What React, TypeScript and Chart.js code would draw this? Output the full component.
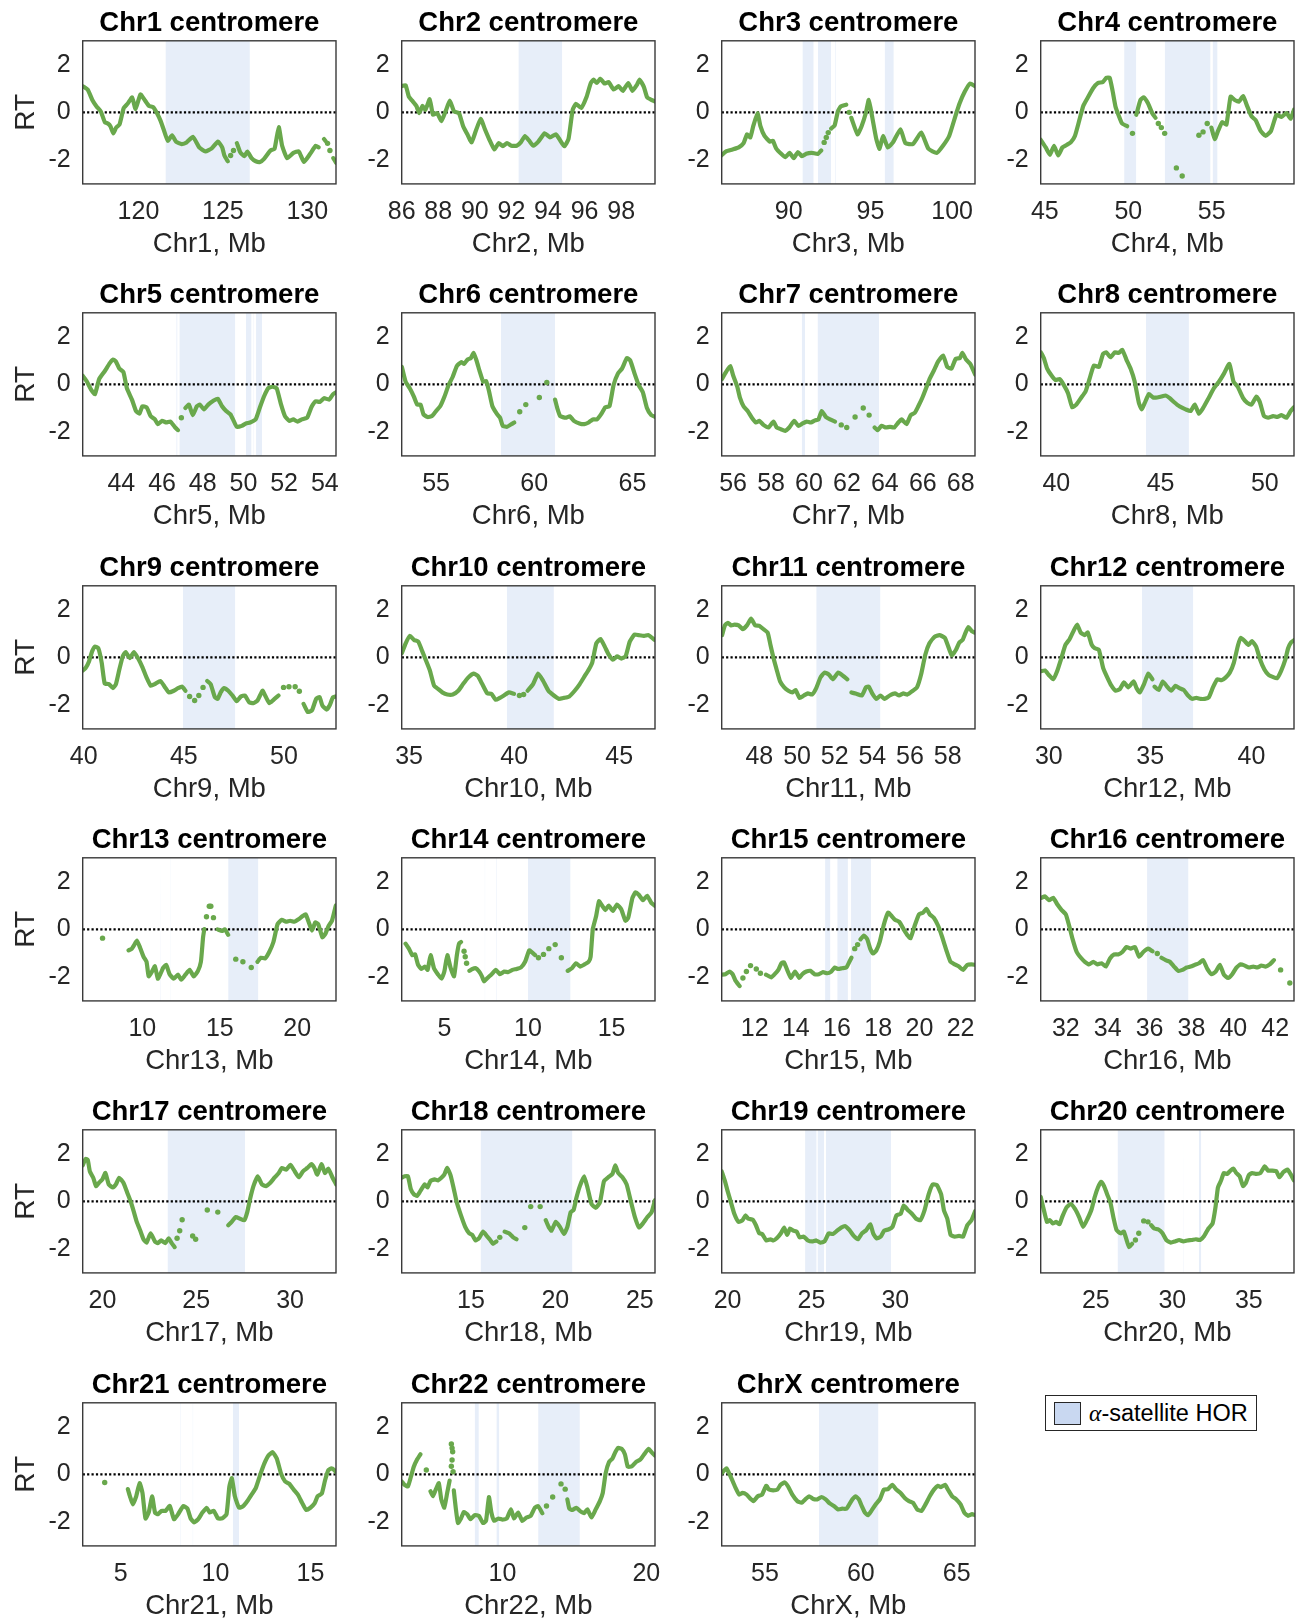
import React, { useEffect, useRef } from 'react';
import { Chart, registerables } from 'chart.js';

Chart.register(...registerables);

type Pt = [number, number] | null;

// ---------------- data ----------------
const rtChr1: Pt[] = [[116.7,1.1],[117.0,0.95],[117.27,0.52],[117.52,0.25],[117.77,0.04],[118.01,-0.41],[118.19,-0.47],[118.34,-0.58],[118.51,-0.88],[118.68,-0.64],[118.88,-0.51],[119.13,0.18],[119.38,0.38],[119.63,0.63],[119.83,0.14],[120.12,0.75],[120.37,0.52],[120.62,0.27],[120.87,0.22],[121.07,0.0],[121.32,-0.37],[121.49,-0.71],[121.74,-1.19],[121.99,-0.96],[122.23,-1.23],[122.56,-1.33],[122.85,-1.26],[123.23,-1.03],[123.6,-1.47],[123.97,-1.64],[124.34,-1.51],[124.71,-1.23],[124.96,-1.47],[125.09,-1.81],[125.29,-2.05],null,[125.46,-1.81],null,[125.63,-1.6],null,[125.83,-1.29],[126.03,-1.67],[126.28,-1.84],[126.45,-1.64],[126.7,-1.92],[126.95,-2.05],[127.2,-2.08],[127.44,-1.95],[127.82,-1.6],[128.06,-1.53],[128.31,-0.62],[128.51,-1.4],[128.81,-1.92],[129.18,-1.7],[129.5,-1.64],[129.8,-2.08],[130.17,-1.74],[130.5,-1.4],[130.67,-1.47],null,[130.99,-1.12],[131.08,-1.2],null,[131.2,-1.3],null,[131.34,-1.6],null,[131.54,-1.92],[131.71,-2.12]];
const rtChr2: Pt[] = [[86.0,1.1],[86.21,1.14],[86.39,0.66],[86.57,0.49],[86.8,0.27],[86.96,-0.03],[87.14,0.27],[87.3,0.11],[87.53,0.55],[87.71,-0.1],[87.94,-0.03],[88.17,-0.37],[88.4,0.04],[88.63,0.49],[88.86,0.04],[89.13,-0.03],[89.36,-0.58],[89.59,-0.92],[89.82,-1.26],[90.05,-0.78],[90.32,-0.27],[90.55,-0.71],[90.78,-1.12],[91.07,-1.56],[91.3,-1.29],[91.53,-1.42],[91.76,-1.29],[91.99,-1.4],[92.29,-1.4],[92.51,-1.26],[92.74,-0.99],[92.97,-1.19],[93.2,-1.4],[93.47,-1.23],[93.82,-0.88],[94.11,-1.05],[94.43,-0.92],[94.62,-1.12],[94.89,-1.42],[95.12,-1.12],[95.35,0.11],[95.53,0.36],[95.81,0.18],[96.1,0.63],[96.33,1.21],[96.49,1.37],[96.67,1.23],[96.86,1.41],[97.09,1.21],[97.31,1.27],[97.59,0.96],[97.86,1.1],[98.09,0.9],[98.39,1.23],[98.62,0.9],[98.85,1.14],[99.01,1.37],[99.24,1.07],[99.42,0.63],[99.65,0.52],[99.87,0.45]];
const rtChr3: Pt[] = [[85.87,-1.81],[86.17,-1.64],[86.56,-1.56],[86.94,-1.47],[87.24,-1.29],[87.45,-0.92],[87.65,-1.05],[87.83,-0.58],[88.09,-0.03],[88.27,-0.58],[88.52,-0.99],[88.85,-1.23],[89.03,-1.19],[89.23,-1.51],[89.54,-1.74],[89.8,-1.88],[90.05,-1.7],[90.31,-1.92],[90.56,-1.67],[90.82,-1.84],[91.07,-1.74],[91.4,-1.7],[91.79,-1.74],[91.99,-1.6],null,[92.17,-1.26],null,[92.3,-1.05],null,[92.42,-0.85],null,[92.6,-0.68],[92.81,-0.55],[93.01,0.04],[93.19,0.25],[93.52,0.32],null,[93.7,0.0],null,[93.83,-0.23],[94.21,-0.92],[94.46,-0.58],[94.72,-0.03],[94.9,0.52],[95.1,-0.16],[95.36,-1.12],[95.56,-1.53],[95.77,-0.99],[96.07,-1.47],[96.38,-1.26],[96.84,-0.71],[97.14,-1.29],[97.6,-1.33],[98.11,-0.85],[98.55,-1.53],[99.06,-1.7],[99.44,-1.4],[99.82,-0.99],[100.2,-0.16],[100.46,0.38],[100.77,0.86],[101.1,1.21],[101.4,1.1]];
const rtChr4: Pt[] = [[44.75,-1.15],[45.05,-1.47],[45.3,-1.78],[45.55,-1.4],[45.8,-1.81],[46.05,-1.47],[46.3,-1.37],[46.55,-1.26],[46.8,-0.99],[47.05,-0.37],[47.3,0.27],[47.55,0.59],[47.88,1.0],[48.18,1.23],[48.48,1.27],[48.68,1.45],[48.88,1.45],[49.05,0.93],[49.23,0.25],[49.43,-0.14],[49.63,-0.47],[49.93,-0.58],null,[50.25,-0.88],null,[50.48,-0.1],[50.73,0.52],[50.93,0.63],[51.18,0.38],[51.43,-0.03],[51.63,-0.23],null,[51.8,-0.47],null,[51.98,-0.64],null,[52.18,-0.88],null,[52.88,-2.33],null,[53.23,-2.67],null,[54.23,-0.96],null,[54.48,-0.82],null,[54.73,-0.47],null,[54.98,-0.64],[55.18,-1.12],[55.38,-0.78],[55.63,-0.41],[55.88,-0.51],[56.13,0.66],[56.38,0.52],[56.63,0.45],[56.88,0.68],[57.13,0.25],[57.38,-0.16],[57.63,-0.33],[57.93,-0.78],[58.23,-0.99],[58.55,-0.78],[58.88,-0.1],[59.18,-0.19],[59.48,-0.03],[59.73,-0.27],[59.93,0.11]];
const rtChr5: Pt[] = [[42.1,0.36],[42.31,0.11],[42.52,-0.23],[42.7,-0.41],[42.91,0.22],[43.18,0.55],[43.44,0.9],[43.59,1.04],[43.73,0.96],[43.9,0.66],[44.1,0.52],[44.27,-0.16],[44.52,-0.64],[44.72,-1.12],[44.89,-1.23],[45.03,-0.92],[45.24,-0.96],[45.44,-1.33],[45.65,-1.47],[45.79,-1.67],[46.0,-1.53],[46.21,-1.6],[46.41,-1.56],[46.62,-1.78],[46.78,-1.92],null,[46.95,-1.4],null,[47.15,-0.99],[47.32,-0.85],[47.51,-1.29],[47.71,-0.92],[47.86,-0.85],[48.06,-1.05],[48.27,-0.85],[48.54,-0.68],[48.74,-0.6],[48.95,-0.92],[49.15,-1.12],[49.36,-1.26],[49.51,-1.51],[49.67,-1.78],[49.92,-1.74],[50.12,-1.64],[50.33,-1.6],[50.6,-1.47],[50.8,-0.99],[51.01,-0.51],[51.22,-0.16],[51.42,-0.1],[51.63,-0.16],[51.84,-0.82],[52.04,-1.33],[52.25,-1.53],[52.45,-1.47],[52.66,-1.56],[52.87,-1.47],[53.13,-1.4],[53.34,-0.96],[53.55,-0.71],[53.75,-0.74],[53.96,-0.58],[54.21,-0.64],[54.41,-0.41],[54.56,-0.33]];
const rtChr6: Pt[] = [[53.26,0.73],[53.45,0.11],[53.66,-0.16],[53.87,-0.51],[54.04,-0.85],[54.21,-0.85],[54.36,-1.26],[54.57,-1.37],[54.79,-1.33],[55.0,-1.12],[55.21,-0.92],[55.43,-0.51],[55.64,-0.03],[55.85,0.32],[56.06,0.77],[56.28,0.93],[56.43,0.86],[56.6,1.04],[56.77,1.1],[56.91,1.32],[57.06,1.0],[57.23,0.52],[57.4,0.11],[57.55,0.14],[57.7,-0.3],[57.87,-0.92],[58.09,-1.23],[58.26,-1.4],[58.4,-1.74],[58.62,-1.78],[58.83,-1.67],[58.98,-1.6],null,[59.26,-1.15],null,[59.57,-0.85],null,[60.26,-0.55],null,[60.64,0.08],null,[61.06,-0.64],[61.17,-0.99],[61.32,-1.33],[61.6,-1.4],[61.81,-1.34],[62.02,-1.53],[62.3,-1.64],[62.55,-1.67],[62.77,-1.6],[62.98,-1.47],[63.19,-1.47],[63.4,-1.26],[63.62,-0.96],[63.83,-0.92],[64.04,-0.03],[64.26,0.45],[64.47,0.66],[64.72,1.1],[64.89,1.0],[65.11,0.45],[65.32,-0.03],[65.53,-0.33],[65.74,-0.99],[65.96,-1.29],[66.17,-1.37]];
const rtChr7: Pt[] = [[55.41,0.22],[55.63,0.52],[55.85,0.77],[56.0,0.38],[56.22,-0.1],[56.37,-0.58],[56.55,-0.92],[56.77,-1.12],[56.99,-1.4],[57.21,-1.6],[57.38,-1.53],[57.6,-1.7],[57.86,-1.81],[58.13,-1.56],[58.3,-1.81],[58.52,-1.88],[58.74,-1.95],[58.96,-1.81],[59.22,-1.53],[59.44,-1.74],[59.66,-1.64],[59.88,-1.56],[60.1,-1.6],[60.32,-1.51],[60.5,-1.47],[60.67,-1.12],[60.89,-1.37],[61.11,-1.47],[61.37,-1.56],null,[61.7,-1.7],null,[61.99,-1.81],null,[62.43,-1.37],null,[62.86,-0.99],null,[63.17,-1.29],null,[63.46,-1.81],[63.61,-1.92],[63.83,-1.74],[64.05,-1.81],[64.27,-1.78],[64.49,-1.81],[64.71,-1.6],[64.88,-1.47],[65.14,-1.67],[65.36,-1.29],[65.58,-1.19],[65.76,-0.92],[65.98,-0.55],[66.2,-0.1],[66.37,0.25],[66.59,0.59],[66.81,0.96],[67.07,1.21],[67.29,0.73],[67.51,0.66],[67.73,1.07],[67.95,1.1],[68.08,1.32],[68.28,1.04],[68.5,0.86],[68.76,0.41]];
const rtChr8: Pt[] = [[39.26,1.34],[39.4,1.1],[39.56,0.66],[39.76,0.38],[39.96,0.18],[40.16,0.22],[40.36,-0.03],[40.56,-0.37],[40.76,-0.96],[40.96,-0.85],[41.2,-0.55],[41.4,-0.3],[41.6,0.25],[41.8,0.79],[42.04,0.73],[42.24,1.27],[42.4,1.34],[42.6,1.14],[42.8,1.34],[43.0,1.32],[43.16,1.45],[43.36,1.04],[43.56,0.66],[43.76,0.11],[43.96,-0.78],[44.1,-1.05],[44.24,-0.78],[44.44,-0.41],[44.64,-0.55],[44.84,-0.55],[45.04,-0.51],[45.24,-0.47],[45.44,-0.58],[45.64,-0.74],[45.9,-0.92],[46.2,-1.05],[46.44,-1.12],[46.64,-0.85],[46.84,-1.23],[47.04,-0.99],[47.3,-0.58],[47.56,-0.16],[47.8,0.11],[48.04,0.45],[48.3,0.86],[48.5,0.11],[48.7,-0.1],[48.96,-0.58],[49.16,-0.78],[49.36,-0.85],[49.6,-0.51],[49.76,-0.74],[49.96,-1.33],[50.16,-1.4],[50.4,-1.33],[50.6,-1.37],[50.8,-1.29],[51.04,-1.4],[51.24,-1.12],[51.4,-0.96]];
const rtChr9: Pt[] = [[39.96,-0.55],[40.1,-0.44],[40.27,-0.16],[40.42,0.25],[40.56,0.45],[40.73,0.38],[40.9,-0.23],[41.05,-1.1],[41.26,-1.12],[41.46,-1.29],[41.61,-1.12],[41.78,-0.51],[41.95,0.04],[42.09,0.22],[42.3,-0.03],[42.51,0.22],[42.72,-0.05],[42.93,-0.41],[43.14,-0.85],[43.35,-1.19],[43.56,-1.12],[43.83,-0.99],[44.04,-1.23],[44.25,-1.47],[44.5,-1.4],[44.71,-1.29],[44.92,-1.23],[45.08,-1.4],null,[45.29,-1.64],null,[45.54,-1.81],null,[45.75,-1.6],null,[45.96,-1.26],null,[46.17,-0.99],[46.34,-1.12],[46.55,-1.67],[46.69,-1.74],[46.84,-1.47],[47.01,-1.29],[47.22,-1.4],[47.43,-1.6],[47.64,-1.84],[47.85,-1.64],[48.05,-1.6],[48.26,-1.88],[48.47,-1.92],[48.68,-1.81],[48.93,-1.4],[49.06,-1.6],[49.27,-1.92],[49.48,-1.78],[49.73,-1.6],null,[49.98,-1.26],null,[50.25,-1.23],null,[50.56,-1.23],null,[50.77,-1.42],null,[50.98,-1.95],[51.19,-2.29],[51.4,-2.22],[51.61,-1.74],[51.78,-1.67],[51.92,-2.02],[52.13,-2.19],[52.28,-2.02],[52.45,-1.67],[52.59,-1.64]];
const rtChr10: Pt[] = [[34.66,0.18],[34.84,0.59],[35.04,0.9],[35.24,0.73],[35.44,0.66],[35.63,0.25],[35.79,-0.1],[35.99,-0.55],[36.19,-1.19],[36.39,-1.33],[36.58,-1.47],[36.82,-1.56],[37.08,-1.56],[37.34,-1.4],[37.57,-1.12],[37.81,-0.85],[38.07,-0.68],[38.27,-0.78],[38.47,-1.1],[38.72,-1.51],[38.92,-1.53],[39.12,-1.78],[39.32,-1.7],[39.51,-1.6],[39.75,-1.47],[39.99,-1.53],null,[40.25,-1.6],null,[40.45,-1.56],null,[40.64,-1.4],[40.9,-1.12],[41.14,-0.68],[41.38,-0.99],[41.63,-1.4],[41.89,-1.6],[42.13,-1.74],[42.37,-1.7],[42.62,-1.64],[42.88,-1.4],[43.12,-1.12],[43.36,-0.78],[43.55,-0.51],[43.71,-0.23],[43.91,0.59],[44.11,0.77],[44.31,0.45],[44.5,0.11],[44.7,-0.1],[44.9,0.04],[45.1,-0.05],[45.3,0.04],[45.5,0.66],[45.73,0.96],[45.93,0.93],[46.19,0.9],[46.39,0.93],[46.68,0.73]];
const rtChr11: Pt[] = [[46.02,0.93],[46.17,1.34],[46.33,1.45],[46.5,1.34],[46.68,1.37],[46.9,1.34],[47.12,1.18],[47.34,1.34],[47.56,1.62],[47.78,1.34],[48.0,1.32],[48.22,1.18],[48.44,1.04],[48.59,0.52],[48.75,-0.03],[48.93,-0.55],[49.1,-1.01],[49.32,-1.26],[49.54,-1.4],[49.76,-1.47],[49.92,-1.37],[50.14,-1.7],[50.36,-1.6],[50.58,-1.51],[50.8,-1.56],[51.02,-1.29],[51.24,-0.85],[51.46,-0.64],[51.68,-0.71],[51.9,-0.92],[52.19,-0.64],[52.45,-0.78],[52.67,-0.92],null,[52.89,-1.47],[53.15,-1.53],[53.44,-1.6],[53.66,-1.26],[53.81,-1.23],[53.99,-1.51],[54.21,-1.74],[54.43,-1.6],[54.65,-1.74],[54.92,-1.6],[55.2,-1.51],[55.42,-1.6],[55.64,-1.51],[55.86,-1.56],[56.15,-1.4],[56.37,-1.26],[56.59,-0.71],[56.81,0.11],[57.03,0.59],[57.3,0.86],[57.56,0.93],[57.85,0.82],[58.0,0.52],[58.22,0.08],[58.44,0.32],[58.62,0.63],[58.79,0.73],[58.95,1.04],[59.1,1.27],[59.28,1.1],[59.43,1.04]];
const rtChr12: Pt[] = [[29.61,-0.58],[29.81,-0.55],[30.0,-0.74],[30.21,-0.92],[30.41,-0.58],[30.62,-0.03],[30.82,0.52],[31.03,0.77],[31.24,1.14],[31.4,1.37],[31.57,1.04],[31.77,0.93],[31.92,1.04],[32.12,0.52],[32.27,0.38],[32.47,0.32],[32.68,-0.44],[32.89,-0.85],[33.09,-1.19],[33.3,-1.4],[33.51,-1.33],[33.71,-1.05],[33.92,-1.26],[34.19,-1.01],[34.33,-1.29],[34.49,-1.47],[34.7,-1.12],[34.91,-0.68],[35.11,-0.92],null,[35.22,-1.23],[35.42,-1.37],[35.63,-1.01],[35.84,-1.23],[36.04,-1.4],[36.25,-1.19],[36.45,-1.29],[36.66,-1.37],[36.87,-1.6],[37.07,-1.74],[37.28,-1.7],[37.48,-1.74],[37.69,-1.74],[37.9,-1.67],[38.1,-1.26],[38.31,-0.92],[38.52,-0.96],[38.72,-0.85],[38.93,-0.64],[39.13,-0.23],[39.34,0.52],[39.48,0.82],[39.69,0.66],[39.86,0.52],[40.02,0.68],[40.23,0.45],[40.43,-0.1],[40.64,-0.51],[40.85,-0.74],[41.05,-0.82],[41.26,-0.88],[41.46,-0.58],[41.67,-0.1],[41.81,0.38],[41.96,0.63],[42.12,0.73]];
const rtChr13: Pt[] = [[7.43,-0.37],null,[9.11,-0.88],[9.32,-0.81],[9.46,-0.67],[9.65,-0.47],[9.86,-0.78],[10.08,-1.15],[10.27,-1.36],[10.41,-1.97],[10.62,-1.77],[10.81,-1.55],[11.0,-2.07],[11.16,-1.88],[11.35,-1.6],[11.54,-1.49],[11.76,-1.88],[12.03,-2.07],[12.3,-1.9],[12.51,-2.11],[12.78,-1.9],[13.05,-1.7],[13.32,-1.97],[13.59,-1.74],[13.78,-1.36],[13.92,-0.33],[14.0,0.01],null,[14.14,0.53],null,[14.32,0.97],null,[14.42,0.97],null,[14.59,0.49],null,[14.86,0.0],[15.14,-0.07],[15.32,0.0],[15.54,-0.23],null,[16.03,-1.25],null,[16.49,-1.36],null,[17.03,-1.6],null,[17.43,-1.36],[17.65,-1.19],[17.92,-1.22],[18.19,-0.95],[18.46,-0.53],[18.73,0.22],[19.0,0.4],[19.27,0.32],[19.54,0.36],[19.81,0.32],[20.08,0.42],[20.35,0.56],[20.54,0.63],[20.73,0.32],[20.95,-0.05],[21.16,0.29],[21.35,0.22],[21.62,-0.33],[21.81,-0.19],[22.03,0.15],[22.24,0.36],[22.49,1.0]];
const rtChr14: Pt[] = [[2.68,-0.6],[2.88,-0.81],[3.08,-1.08],[3.25,-1.05],[3.43,-1.49],[3.63,-1.66],[3.83,-1.56],[4.0,-1.7],[4.18,-1.08],[4.38,-1.63],[4.63,-1.9],[4.83,-2.07],[5.0,-1.77],[5.18,-1.08],[5.38,-1.63],[5.58,-1.97],[5.75,-1.08],[5.88,-0.6],[6.0,-0.53],null,[6.18,-0.92],null,[6.25,-1.15],null,[6.33,-1.42],null,[6.5,-1.74],[6.68,-1.66],[6.88,-1.63],[7.08,-1.77],[7.25,-1.97],[7.38,-2.18],[7.58,-2.04],[7.83,-1.88],[8.08,-1.7],[8.33,-1.88],[8.58,-1.77],[8.83,-1.79],[9.08,-1.7],[9.33,-1.66],[9.58,-1.6],[9.83,-1.36],[10.08,-0.88],[10.25,-0.97],[10.43,-1.08],null,[10.63,-1.19],null,[10.93,-1.05],null,[11.25,-0.81],null,[11.63,-0.64],null,[12.0,-1.19],null,[12.38,-1.74],[12.63,-1.63],[12.88,-1.42],[13.13,-1.56],[13.38,-1.47],[13.63,-1.36],[13.75,-1.15],[13.88,0.01],[14.08,0.56],[14.25,1.18],[14.43,1.0],[14.63,0.81],[14.83,1.0],[15.08,0.77],[15.33,1.04],[15.58,0.84],[15.83,0.36],[16.0,0.49],[16.25,1.32],[16.43,1.55],[16.63,1.45],[16.88,1.22],[17.13,1.41],[17.38,1.11],[17.63,0.97]];
const rtChr15: Pt[] = [[10.38,-1.9],[10.58,-1.88],[10.79,-1.77],[10.93,-1.88],[11.07,-2.15],[11.27,-2.38],null,[11.43,-2.04],null,[11.6,-1.77],null,[11.8,-1.52],null,[12.08,-1.66],null,[12.28,-1.84],null,[12.55,-1.9],[12.81,-2.01],[12.95,-1.9],[13.15,-1.7],[13.3,-1.42],[13.42,-1.38],[13.56,-1.66],[13.76,-2.04],[13.96,-1.77],[14.17,-2.04],[14.31,-1.88],[14.51,-1.77],[14.71,-1.74],[14.91,-1.88],[15.12,-1.88],[15.32,-1.79],[15.52,-1.84],[15.72,-1.77],[15.89,-1.6],[16.05,-1.66],[16.25,-1.63],[16.45,-1.6],[16.6,-1.36],[16.7,-1.19],null,[16.86,-0.81],null,[17.0,-0.64],null,[17.14,-0.42],[17.3,-0.26],[17.47,-0.42],[17.61,-0.81],[17.75,-1.01],[17.91,-0.88],[18.07,-0.53],[18.28,0.22],[18.48,0.7],[18.62,0.59],[18.82,0.4],[19.02,0.32],[19.23,0.01],[19.43,-0.26],[19.57,-0.37],[19.77,0.15],[19.98,0.63],[20.18,0.7],[20.34,0.86],[20.5,0.63],[20.7,0.49],[20.91,0.15],[21.11,-0.33],[21.31,-0.88],[21.51,-1.36],[21.72,-1.47],[21.92,-1.56],[22.12,-1.7],[22.32,-1.49],[22.53,-1.47],[22.71,-1.49]];
const rtChr16: Pt[] = [[30.83,1.32],[31.01,1.38],[31.2,1.22],[31.4,1.32],[31.6,1.04],[31.8,0.81],[32.0,0.63],[32.16,0.15],[32.32,-0.4],[32.52,-0.95],[32.72,-1.19],[32.91,-1.36],[33.11,-1.47],[33.31,-1.36],[33.51,-1.47],[33.71,-1.42],[33.91,-1.56],[34.11,-1.22],[34.31,-1.05],[34.5,-1.05],[34.7,-0.95],[34.9,-0.74],[35.1,-0.81],[35.3,-0.74],[35.5,-1.15],[35.7,-0.95],[35.94,-0.81],[36.14,-0.92],null,[36.37,-1.01],null,[36.57,-1.19],[36.77,-1.29],[36.97,-1.36],[37.17,-1.56],[37.37,-1.74],[37.57,-1.7],[37.77,-1.6],[37.96,-1.56],[38.16,-1.49],[38.36,-1.42],[38.56,-1.29],[38.76,-1.66],[38.96,-1.88],[39.16,-1.77],[39.36,-1.49],[39.55,-1.9],[39.75,-2.04],[39.95,-1.88],[40.15,-1.6],[40.35,-1.47],[40.55,-1.52],[40.75,-1.6],[40.95,-1.56],[41.15,-1.6],[41.34,-1.52],[41.54,-1.56],[41.74,-1.47],[41.94,-1.29],null,[42.26,-1.7],null,[42.7,-2.25]];
const rtChr17: Pt[] = [[18.95,1.51],[19.11,1.78],[19.22,1.74],[19.33,1.26],[19.51,0.99],[19.66,0.64],[19.82,0.78],[20.0,0.92],[20.16,1.19],[20.34,0.71],[20.56,0.58],[20.72,0.71],[20.89,0.99],[21.12,0.78],[21.34,0.33],[21.52,-0.04],[21.68,-0.45],[21.83,-0.86],[22.01,-1.21],[22.19,-1.59],[22.35,-1.73],[22.57,-1.34],[22.8,-1.68],[22.95,-1.75],[23.13,-1.64],[23.36,-1.75],[23.53,-1.55],[23.69,-1.75],[23.85,-1.92],null,[23.98,-1.55],null,[24.12,-1.23],null,[24.25,-0.77],null,[24.81,-1.45],null,[24.97,-1.59],null,[25.59,-0.36],null,[26.15,-0.45],null,[26.71,-1.0],[26.89,-0.86],[27.11,-0.66],[27.34,-0.73],[27.56,-0.79],[27.72,-0.45],[27.87,0.1],[28.05,0.64],[28.28,1.05],[28.5,0.71],[28.72,0.64],[28.95,0.78],[29.17,0.99],[29.4,1.19],[29.57,1.4],[29.8,1.33],[30.02,1.53],[30.25,1.26],[30.47,1.01],[30.69,1.26],[30.92,1.4],[31.14,1.56],[31.3,1.4],[31.45,1.12],[31.68,1.56],[31.86,1.19],[32.04,1.37],[32.27,0.99],[32.46,0.71]];
const rtChr18: Pt[] = [[10.9,0.99],[11.07,1.05],[11.27,1.05],[11.44,0.51],[11.62,0.3],[11.81,0.23],[12.01,0.44],[12.26,0.71],[12.43,0.58],[12.6,0.85],[12.85,0.92],[13.05,0.88],[13.25,0.99],[13.42,1.12],[13.59,1.4],[13.79,1.1],[13.99,0.51],[14.16,-0.04],[14.41,-0.59],[14.66,-1.07],[14.9,-1.34],[15.08,-1.41],[15.27,-1.64],[15.47,-1.55],[15.72,-1.27],[15.97,-1.48],[16.14,-1.62],[16.31,-1.78],[16.51,-1.68],null,[16.71,-1.51],null,[17.0,-1.27],[17.25,-1.34],[17.5,-1.51],[17.7,-1.59],null,[18.19,-1.1],null,[18.54,-0.22],null,[19.1,-0.22],null,[19.43,-0.79],[19.6,-1.07],[19.77,-1.23],[20.02,-0.86],[20.27,-1.07],[20.51,-1.37],[20.71,-1.07],[20.91,-0.45],[21.08,-0.36],[21.25,0.16],[21.45,0.64],[21.7,1.05],[21.9,0.58],[22.14,-0.11],[22.39,-0.27],[22.64,-0.04],[22.88,0.85],[23.13,1.01],[23.38,1.15],[23.55,1.51],[23.72,1.19],[23.97,1.01],[24.22,0.71],[24.46,0.03],[24.71,-0.66],[24.96,-1.1],[25.21,-0.9],[25.45,-0.66],[25.7,-0.45],[25.9,0.05]];
const rtChr19: Pt[] = [[19.65,1.26],[19.83,0.88],[20.0,0.44],[20.2,-0.04],[20.4,-0.52],[20.65,-0.86],[20.89,-0.79],[21.07,-0.59],[21.24,-0.73],[21.49,-0.77],[21.69,-1.0],[21.89,-1.34],[22.06,-1.37],[22.31,-1.64],[22.56,-1.59],[22.73,-1.64],[22.93,-1.55],[23.18,-1.34],[23.37,-1.1],[23.55,-1.41],[23.72,-1.14],[23.92,-1.23],[24.12,-1.27],[24.29,-1.51],[24.54,-1.48],[24.79,-1.64],[25.04,-1.68],[25.29,-1.64],[25.53,-1.73],[25.78,-1.68],[26.03,-1.34],[26.28,-1.37],[26.53,-1.23],[26.77,-1.1],[27.02,-1.04],[27.27,-1.21],[27.52,-1.45],[27.77,-1.59],[28.01,-1.34],[28.26,-1.21],[28.51,-0.96],[28.68,-1.34],[28.88,-1.55],[29.13,-1.48],[29.33,-1.23],[29.58,-1.18],[29.83,-1.07],[30.07,-0.59],[30.32,-0.52],[30.5,-0.18],[30.74,-0.36],[30.99,-0.52],[31.24,-0.73],[31.49,-0.79],[31.74,-0.38],[31.99,0.3],[32.23,0.71],[32.48,0.68],[32.73,0.3],[32.9,-0.38],[33.1,-0.73],[33.3,-1.41],[33.55,-1.48],[33.8,-1.45],[34.04,-1.48],[34.29,-1.0],[34.54,-0.79],[34.76,-0.41]];
const rtChr20: Pt[] = [[21.4,0.19],[21.59,-0.32],[21.81,-0.86],[22.0,-0.79],[22.19,-0.93],[22.41,-0.86],[22.63,-0.96],[22.82,-0.63],[23.09,-0.25],[23.37,-0.11],[23.64,-0.32],[23.91,-0.66],[24.18,-1.07],[24.46,-0.73],[24.73,-0.32],[24.92,0.16],[25.14,0.58],[25.35,0.82],[25.54,0.64],[25.74,0.3],[25.95,-0.04],[26.17,-0.73],[26.36,-1.21],[26.63,-1.34],[26.83,-1.27],[27.04,-1.68],[27.18,-1.92],[27.37,-1.78],null,[27.59,-1.62],null,[27.81,-1.34],null,[28.13,-0.82],null,[28.41,-0.86],null,[28.62,-1.0],[28.81,-1.14],[29.09,-1.18],[29.36,-1.34],[29.63,-1.64],[29.9,-1.73],[30.18,-1.68],[30.45,-1.62],[30.72,-1.68],[30.99,-1.64],[31.27,-1.62],[31.54,-1.59],[31.81,-1.62],[32.08,-1.45],[32.36,-1.14],[32.63,-0.93],[32.82,-0.25],[32.98,0.58],[33.17,0.85],[33.37,1.19],[33.58,1.15],[33.8,1.29],[33.99,1.37],[34.18,1.19],[34.4,1.05],[34.62,0.64],[34.81,0.78],[35.0,1.1],[35.22,1.19],[35.49,1.15],[35.76,1.19],[36.04,1.47],[36.25,1.29],[36.53,1.29],[36.8,1.26],[36.99,1.01],[37.26,1.23],[37.53,1.33],[37.72,1.15],[37.94,0.88]];
const rtChr21: Pt[] = [[4.16,-0.34],null,[5.38,-0.62],[5.49,-0.92],[5.64,-1.26],[5.82,-0.92],[6.0,-0.37],[6.15,-0.78],[6.31,-1.85],[6.48,-1.6],[6.66,-0.92],[6.81,-1.6],[6.97,-1.67],[7.15,-1.53],[7.37,-1.53],[7.59,-1.33],[7.81,-1.88],[8.03,-1.67],[8.3,-1.33],[8.52,-1.44],[8.69,-1.85],[8.87,-2.01],[9.09,-1.88],[9.31,-1.6],[9.54,-1.4],[9.69,-1.6],[9.91,-1.53],[10.13,-1.85],[10.35,-1.85],[10.58,-1.67],[10.73,-0.51],[10.86,-0.16],[11.02,-0.92],[11.24,-1.4],[11.46,-1.33],[11.68,-1.12],[11.9,-0.85],[12.12,-0.58],[12.35,-0.03],[12.57,0.45],[12.79,0.79],[13.01,0.93],[13.23,0.66],[13.45,0.04],[13.67,-0.3],[13.89,-0.4],[14.12,-0.64],[14.34,-0.85],[14.56,-1.19],[14.78,-1.49],[15.0,-1.4],[15.22,-1.22],[15.38,-0.92],[15.6,-0.81],[15.77,-0.26],[15.95,0.18],[16.11,0.25],[16.26,0.18],[16.37,0.07]];
const rtChr22: Pt[] = [[3.0,-0.3],[3.2,-0.44],[3.43,-0.51],[3.64,-0.1],[3.84,0.32],[4.07,0.62],[4.3,0.84],null,[4.71,0.18],null,[5.0,-0.71],[5.17,-0.92],[5.38,-0.62],[5.58,-0.37],[5.75,-1.05],[5.96,-1.4],[6.16,-0.78],[6.33,-0.26],null,[6.45,1.27],null,[6.5,1.1],null,[6.54,0.95],null,[6.5,0.6],null,[6.45,0.34],null,[6.57,0.11],null,[6.62,-0.67],[6.74,-1.33],[6.91,-2.04],[7.12,-1.85],[7.32,-1.58],[7.55,-1.67],[7.78,-1.88],[8.07,-1.71],[8.36,-1.74],[8.65,-2.04],[8.86,-1.95],[9.06,-0.95],[9.23,-1.6],[9.43,-1.95],[9.72,-1.85],[10.01,-1.9],[10.3,-1.85],[10.59,-1.47],[10.8,-1.85],[11.09,-1.6],[11.38,-1.95],[11.67,-1.81],[11.96,-1.74],[12.25,-1.4],[12.48,-1.33],[12.77,-1.63],null,[13.06,-1.33],null,[13.49,-0.95],null,[14.07,-0.4],null,[14.36,-0.62],null,[14.51,-1.05],[14.65,-1.44],[14.86,-1.49],[15.14,-1.4],[15.38,-1.53],[15.67,-1.63],[15.9,-1.47],[16.19,-1.81],[16.48,-1.47],[16.77,-1.12],[16.97,-0.78],[17.17,0.04],[17.41,0.52],[17.64,0.66],[17.84,0.93],[18.04,1.11],[18.28,1.07],[18.51,0.84],[18.71,0.32],[19.0,0.34],[19.29,0.52],[19.58,0.62],[19.87,0.86],[20.16,1.07],[20.36,0.93],[20.59,0.79]];
const rtChrX: Pt[] = [[52.74,0.04],[52.9,0.18],[53.0,0.25],[53.18,-0.03],[53.33,-0.3],[53.48,-0.58],[53.66,-0.85],[53.83,-0.78],[54.05,-0.85],[54.26,-1.03],[54.41,-1.12],[54.63,-0.92],[54.85,-0.85],[55.07,-0.48],[55.22,-0.64],[55.43,-0.67],[55.65,-0.64],[55.82,-0.44],[56.04,-0.34],[56.21,-0.51],[56.43,-0.85],[56.69,-1.12],[56.91,-1.19],[57.13,-1.03],[57.3,-0.92],[57.52,-1.03],[57.73,-1.05],[57.95,-0.95],[58.17,-1.05],[58.38,-1.22],[58.6,-1.33],[58.82,-1.47],[59.03,-1.44],[59.25,-1.44],[59.4,-1.26],[59.56,-1.05],[59.73,-0.92],[59.9,-1.05],[60.05,-1.33],[60.21,-1.6],[60.38,-1.71],[60.55,-1.53],[60.77,-1.26],[60.99,-1.05],[61.2,-0.64],[61.42,-0.62],[61.64,-0.44],[61.85,-0.64],[62.07,-0.78],[62.29,-0.99],[62.51,-1.12],[62.72,-1.19],[62.94,-1.47],[63.16,-1.53],[63.37,-1.26],[63.59,-0.92],[63.81,-0.64],[64.02,-0.48],[64.17,-0.54],[64.39,-0.44],[64.54,-0.64],[64.76,-0.92],[64.98,-1.05],[65.2,-1.26],[65.41,-1.63],[65.59,-1.74],[65.8,-1.67],[65.95,-1.71]];

// alpha-satellite HOR intervals (Mb)
const horChr1 = [[121.6, 126.6]];
const horChr2 = [[92.38, 94.78]];
const horChr3 = [[90.84, 91.53], [91.79, 92.6], [92.85, 92.9], [95.87, 96.43]];
const horChr4 = [[49.75, 50.48], [52.18, 54.93], [55.05, 55.35]];
const horChr5 = [[46.7, 46.76], [46.85, 49.6], [50.12, 50.4], [50.46, 50.5], [50.62, 50.92]];
const horChr6 = [[58.3, 61.06]];
const horChr7 = [[59.62, 59.79], [60.45, 63.7]];
const horChr8 = [[44.3, 46.36]];
const horChr9 = [[44.96, 47.57]];
const horChr10 = [[39.65, 41.89]];
const horChr11 = [[51.02, 54.43]];
const horChr12 = [[34.6, 37.13]];
const horChr13 = [[11.14, 11.18], [11.82, 11.86], [15.54, 17.49]];
const horChr14 = [[7.41, 7.45], [8.11, 8.15], [10.0, 12.55]];
const horChr15 = [[15.42, 15.68], [16.01, 16.53], [16.68, 17.65]];
const horChr16 = [[35.88, 37.86]];
const horChr17 = [[23.47, 27.61]];
const horChr18 = [[15.57, 21.01]];
const horChr19 = [[24.62, 25.31], [25.36, 25.76], [25.86, 29.75]];
const horChr20 = [[26.42, 29.5], [30.7, 30.74], [31.73, 31.89]];
const horChr21 = [[8.12, 8.16], [8.79, 8.83], [10.91, 11.24]];
const horChr22 = [[8.07, 8.36], [9.58, 9.78], [12.48, 15.38]];
const horChrX = [[57.82, 60.92]];

// x-axis tick labels
const ticksChr1 = [120, 125, 130];
const ticksChr2 = [86, 88, 90, 92, 94, 96, 98];
const ticksChr3 = [90, 95, 100];
const ticksChr4 = [45, 50, 55];
const ticksChr5 = [44, 46, 48, 50, 52, 54];
const ticksChr6 = [55, 60, 65];
const ticksChr7 = [56, 58, 60, 62, 64, 66, 68];
const ticksChr8 = [40, 45, 50];
const ticksChr9 = [40, 45, 50];
const ticksChr10 = [35, 40, 45];
const ticksChr11 = [48, 50, 52, 54, 56, 58];
const ticksChr12 = [30, 35, 40];
const ticksChr13 = [10, 15, 20];
const ticksChr14 = [5, 10, 15];
const ticksChr15 = [12, 14, 16, 18, 20, 22];
const ticksChr16 = [32, 34, 36, 38, 40, 42];
const ticksChr17 = [20, 25, 30];
const ticksChr18 = [15, 20, 25];
const ticksChr19 = [20, 25, 30];
const ticksChr20 = [25, 30, 35];
const ticksChr21 = [5, 10, 15];
const ticksChr22 = [10, 20];
const ticksChrX = [55, 60, 65];

// x-axis limits (Mb)
const xlimChr1 = [116.7, 131.7];
const xlimChr2 = [86.0, 99.85];
const xlimChr3 = [85.9, 101.4];
const xlimChr4 = [44.75, 59.93];
const xlimChr5 = [42.1, 54.55];
const xlimChr6 = [53.25, 66.15];
const xlimChr7 = [55.4, 68.75];
const xlimChr8 = [39.25, 51.4];
const xlimChr9 = [39.95, 52.6];
const xlimChr10 = [34.65, 46.7];
const xlimChr11 = [46.0, 59.45];
const xlimChr12 = [29.6, 42.1];
const xlimChr13 = [6.15, 22.5];
const xlimChr14 = [2.45, 17.6];
const xlimChr15 = [10.4, 22.7];
const xlimChr16 = [30.8, 42.9];
const xlimChr17 = [18.95, 32.45];
const xlimChr18 = [10.9, 25.9];
const xlimChr19 = [19.65, 34.75];
const xlimChr20 = [21.4, 37.95];
const xlimChr21 = [3.0, 16.35];
const xlimChr22 = [3.0, 20.6];
const xlimChrX = [52.75, 65.95];

const yTicks = [-2, 0, 2];
const yLim = [-3, 3];

const panels = [
  { name: 'Chr1', rt: rtChr1, hor: horChr1, ticks: ticksChr1, xlim: xlimChr1 },
  { name: 'Chr2', rt: rtChr2, hor: horChr2, ticks: ticksChr2, xlim: xlimChr2 },
  { name: 'Chr3', rt: rtChr3, hor: horChr3, ticks: ticksChr3, xlim: xlimChr3 },
  { name: 'Chr4', rt: rtChr4, hor: horChr4, ticks: ticksChr4, xlim: xlimChr4 },
  { name: 'Chr5', rt: rtChr5, hor: horChr5, ticks: ticksChr5, xlim: xlimChr5 },
  { name: 'Chr6', rt: rtChr6, hor: horChr6, ticks: ticksChr6, xlim: xlimChr6 },
  { name: 'Chr7', rt: rtChr7, hor: horChr7, ticks: ticksChr7, xlim: xlimChr7 },
  { name: 'Chr8', rt: rtChr8, hor: horChr8, ticks: ticksChr8, xlim: xlimChr8 },
  { name: 'Chr9', rt: rtChr9, hor: horChr9, ticks: ticksChr9, xlim: xlimChr9 },
  { name: 'Chr10', rt: rtChr10, hor: horChr10, ticks: ticksChr10, xlim: xlimChr10 },
  { name: 'Chr11', rt: rtChr11, hor: horChr11, ticks: ticksChr11, xlim: xlimChr11 },
  { name: 'Chr12', rt: rtChr12, hor: horChr12, ticks: ticksChr12, xlim: xlimChr12 },
  { name: 'Chr13', rt: rtChr13, hor: horChr13, ticks: ticksChr13, xlim: xlimChr13 },
  { name: 'Chr14', rt: rtChr14, hor: horChr14, ticks: ticksChr14, xlim: xlimChr14 },
  { name: 'Chr15', rt: rtChr15, hor: horChr15, ticks: ticksChr15, xlim: xlimChr15 },
  { name: 'Chr16', rt: rtChr16, hor: horChr16, ticks: ticksChr16, xlim: xlimChr16 },
  { name: 'Chr17', rt: rtChr17, hor: horChr17, ticks: ticksChr17, xlim: xlimChr17 },
  { name: 'Chr18', rt: rtChr18, hor: horChr18, ticks: ticksChr18, xlim: xlimChr18 },
  { name: 'Chr19', rt: rtChr19, hor: horChr19, ticks: ticksChr19, xlim: xlimChr19 },
  { name: 'Chr20', rt: rtChr20, hor: horChr20, ticks: ticksChr20, xlim: xlimChr20 },
  { name: 'Chr21', rt: rtChr21, hor: horChr21, ticks: ticksChr21, xlim: xlimChr21 },
  { name: 'Chr22', rt: rtChr22, hor: horChr22, ticks: ticksChr22, xlim: xlimChr22 },
  { name: 'ChrX', rt: rtChrX, hor: horChrX, ticks: ticksChrX, xlim: xlimChrX },
];

// ---------------- styling / layout ----------------
const FONT = "'Liberation Sans', Arial, Helvetica, sans-serif";
const GREEN = '#69a84c';
const SHADE = '#e7eef9';
const AXIS = '#262626';
const CANVAS_W = 358;
const CANVAS_H = 272;
const COL_STEP = 319.25;
const ROW_STEP = 272.35;
const Y_AXIS_W = 82.7;
const X_AXIS_H = 88.1;

const framePlugin = {
  id: 'frame',
  afterDatasetsDraw(chart: any) {
    const { ctx, chartArea } = chart;
    ctx.save();
    ctx.strokeStyle = '#3a3a3a';
    ctx.lineWidth = 1.4;
    ctx.strokeRect(chartArea.left, chartArea.top, chartArea.right - chartArea.left, chartArea.bottom - chartArea.top);
    ctx.restore();
  },
};

function Panel({ p, index }: { p: any; index: number }) {
  const ref = useRef<HTMLCanvasElement>(null);
  const col = index % 4;
  const row = Math.floor(index / 4);
  useEffect(() => {
    if (!ref.current) return;
    const data: any[] = [];
    let lastX = p.xlim[0];
    for (const q of p.rt as Pt[]) {
      if (q) { data.push({ x: q[0], y: q[1] }); lastX = q[0]; }
      else data.push({ x: lastX, y: null });
    }
    const isGap = (d: any) => !d || d.y === null || d.y === undefined;
    const datasets: any[] = [
      {
        data,
        borderColor: GREEN,
        backgroundColor: GREEN,
        borderWidth: 4.2,
        borderCapStyle: 'round',
        borderJoinStyle: 'round',
        pointRadius: (ctx: any) => {
          const d = ctx.dataset.data;
          const i = ctx.dataIndex;
          return isGap(d[i - 1]) && isGap(d[i + 1]) ? 2.7 : 0;
        },
        pointBorderWidth: 0,
        pointHoverRadius: 0,
        spanGaps: false,
        fill: false,
        tension: 0.15,
        order: 0,
      },
      {
        data: [{ x: p.xlim[0], y: 0 }, { x: p.xlim[1], y: 0 }],
        borderColor: '#000',
        borderWidth: 2.4,
        borderDash: [2.2, 2.2],
        pointRadius: 0,
        fill: false,
        order: 1,
      },
      ...p.hor.map((h: number[]) => ({
        data: [{ x: h[0], y: yLim[1] }, { x: h[1], y: yLim[1] }],
        borderColor: 'rgba(0,0,0,0)',
        borderWidth: 0,
        backgroundColor: SHADE,
        fill: { value: yLim[0] },
        pointRadius: 0,
        order: 2,
      })),
    ];
    const chart = new Chart(ref.current, {
      type: 'line',
      data: { datasets },
      plugins: [framePlugin],
      options: {
        animation: false,
        responsive: false,
        events: [],
        layout: { padding: { left: 0, right: 22, top: 0, bottom: 0 } },
        plugins: {
          legend: { display: false },
          tooltip: { enabled: false },
          title: {
            display: true,
            fullSize: false,
            text: `${p.name} centromere`,
            color: '#000',
            font: { family: FONT, size: 27.5, weight: 'bold', lineHeight: 1 },
            padding: { top: 10, bottom: 3.3 },
          },
        },
        scales: {
          x: {
            type: 'linear',
            min: p.xlim[0],
            max: p.xlim[1],
            afterBuildTicks: (s: any) => { s.ticks = p.ticks.map((v: number) => ({ value: v })); },
            afterFit: (s: any) => { s.height = X_AXIS_H; },
            grid: { display: false, drawTicks: false },
            border: { display: false },
            ticks: {
              autoSkip: false, maxRotation: 0, minRotation: 0, padding: 13,
              color: AXIS, font: { family: FONT, size: 25 },
              callback: (v: any) => String(v),
            },
            title: {
              display: true, text: `${p.name}, Mb`, color: AXIS,
              font: { family: FONT, size: 27.5, lineHeight: 1.2 },
              padding: { top: 0, bottom: 11 },
            },
          },
          y: {
            type: 'linear',
            min: yLim[0],
            max: yLim[1],
            afterBuildTicks: (s: any) => { s.ticks = yTicks.map((v) => ({ value: v })); },
            afterFit: (s: any) => { s.width = Y_AXIS_W; },
            grid: { display: false, drawTicks: false },
            border: { display: false },
            ticks: {
              padding: 12, color: AXIS, font: { family: FONT, size: 25 },
              callback: (v: any) => String(v),
            },
            title: {
              display: col === 0, text: 'RT', color: AXIS,
              font: { family: FONT, size: 28, lineHeight: 1.2 },
              padding: { top: 9, bottom: 0 },
            },
          },
        },
      } as any,
    } as any);
    return () => chart.destroy();
  }, []);
  return (
    <canvas
      ref={ref}
      width={CANVAS_W}
      height={CANVAS_H}
      style={{ position: 'absolute', left: col * COL_STEP, top: row * ROW_STEP, width: CANVAS_W, height: CANVAS_H }}
    />
  );
}

export default function App() {
  return (
    <div style={{ position: 'absolute', left: 0, top: 0, width: 1306, height: 1620, background: '#fff', overflow: 'hidden' }}>
      {panels.map((p, i) => <Panel key={p.name} p={p} index={i} />)}
      <div
        style={{
          position: 'absolute', left: 1044.6, top: 1395, width: 212.8, height: 36,
          border: `1.3px solid ${AXIS}`, boxSizing: 'border-box', background: '#fff',
          display: 'flex', alignItems: 'center', fontFamily: FONT, fontSize: 23.5, color: '#000',
        }}
      >
        <span style={{ display: 'inline-block', width: 27, height: 23, marginLeft: 8.5, background: '#c9d8f1', border: `1.3px solid ${AXIS}`, boxSizing: 'border-box' }} />
        <span style={{ marginLeft: 8, whiteSpace: 'nowrap' }}>
          <i style={{ fontFamily: "'Liberation Serif', 'DejaVu Serif', serif" }}>α</i>-satellite HOR
        </span>
      </div>
    </div>
  );
}
